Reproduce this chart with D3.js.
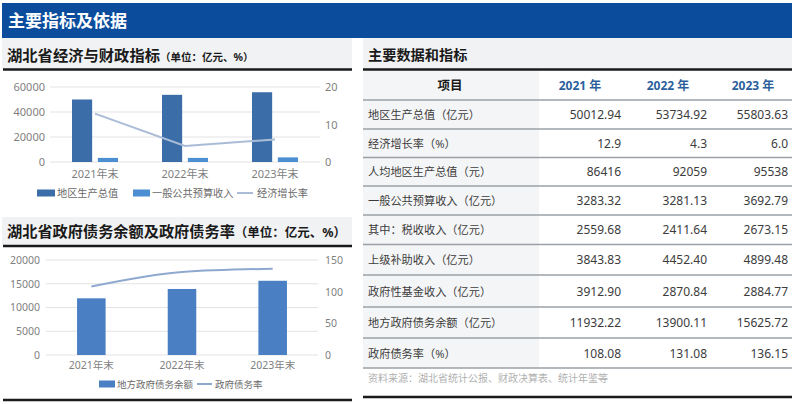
<!DOCTYPE html>
<html><head><meta charset="utf-8">
<script src="https://cdn.jsdelivr.net/npm/d3@7/dist/d3.min.js"></script>
<style>
html,body{margin:0;padding:0;background:#fff;}
svg{display:block;font-family:"Noto Sans","Noto Sans CJK SC",sans-serif;}
</style></head>
<body>
<svg id="c" width="800" height="404"></svg>
<script>
// ---------- data ----------
const categories = ["2021年末", "2022年末", "2023年末"];
const gdp = [50012.94, 53734.92, 55803.63];
const budgetRevenue = [3283.32, 3281.13, 3692.79];
const growthRate = [12.9, 4.3, 6.0];
const debtBalance = [11932.22, 13900.11, 15625.72];
const debtRatio = [108.08, 131.08, 136.15];
const ticksLeft1 = [0, 20000, 40000, 60000];
const ticksRight1 = [0, 10, 20];
const ticksLeft2 = [0, 5000, 10000, 15000, 20000];
const ticksRight2 = [0, 50, 100, 150];
const legend1 = ["地区生产总值", "一般公共预算收入", "经济增长率"];
const legend2 = ["地方政府债务余额", "政府债务率"];
const tableYears = ["2021 年", "2022 年", "2023 年"];
const tableLabels = ["地区生产总值（亿元）", "经济增长率（%）", "人均地区生产总值（元）", "一般公共预算收入（亿元）", "其中：税收收入（亿元）", "上级补助收入（亿元）", "政府性基金收入（亿元）", "地方政府债务余额（亿元）", "政府债务率（%）"];
const table2021 = ["50012.94", "12.9", "86416", "3283.32", "2559.68", "3843.83", "3912.90", "11932.22", "108.08"];
const table2022 = ["53734.92", "4.3", "92059", "3281.13", "2411.64", "4452.40", "2870.84", "13900.11", "131.08"];
const table2023 = ["55803.63", "6.0", "95538", "3692.79", "2673.15", "4899.48", "2884.77", "15625.72", "136.15"];

// ---------- frame ----------
const svg = d3.select("#c");
const BLUE_HDR = "#0b4c9c", BAND = "#f1f2f4";
svg.append("rect").attr("x",2).attr("y",3).attr("width",790).attr("height",35).attr("fill",BLUE_HDR);
svg.append("text").attr("x",8).attr("y",27).attr("fill","#fff").attr("font-size",17).attr("font-weight","bold").text("主要指标及依据");

svg.append("rect").attr("x",2).attr("y",38).attr("width",350).attr("height",31).attr("fill",BAND);
svg.append("rect").attr("x",363).attr("y",38).attr("width",429).attr("height",31).attr("fill",BAND);
svg.append("rect").attr("x",2).attr("y",217).attr("width",350).attr("height",29).attr("fill",BAND);

const t1 = svg.append("text").attr("x",7).attr("y",61).attr("fill","#1a1a1a").attr("font-weight","bold");
t1.append("tspan").attr("font-size",15.3).text("湖北省经济与财政指标");
t1.append("tspan").attr("font-size",10.5).text("（单位：亿元、%）");
const t2 = svg.append("text").attr("x",7).attr("y",237).attr("fill","#1a1a1a").attr("font-weight","bold");
t2.append("tspan").attr("font-size",15.2).text("湖北省政府债务余额及政府债务率");
t2.append("tspan").attr("font-size",12.5).text("（单位：亿元、%）");
svg.append("text").attr("x",368).attr("y",60).attr("fill","#1a1a1a").attr("font-size",14.2).attr("font-weight","bold").text("主要数据和指标");

function hline(x1,x2,y,w,c){svg.append("line").attr("x1",x1).attr("x2",x2).attr("y1",y).attr("y2",y).attr("stroke",c).attr("stroke-width",w);}
hline(3,352,69.5,2.5,"#1a1a1a");
hline(3,352,246,2.5,"#1a1a1a");
hline(3,352,400,2.5,"#1a1a1a");

// ---------- chart 1 ----------
const TICK = "#7f7f7f", GRID = "#e3e3e3";
const FONT = '"Noto Sans","Noto Sans CJK SC",sans-serif';
const x1 = d3.scaleBand().domain(categories).range([50,320]).padding(0);
const sub1 = d3.scaleBand().domain(["gdp","rev"]).range([-23,23]).paddingInner(0.22);
const y1 = d3.scaleLinear().domain([0,60000]).range([162,87]);
const y1r = d3.scaleLinear().domain([0,20]).range([162,87]);
const g1 = svg.append("g");
g1.append("g").selectAll("line").data(ticksLeft1).join("line")
  .attr("x1",50).attr("x2",320).attr("y1",d=>y1(d)).attr("y2",d=>y1(d)).attr("stroke",GRID).attr("stroke-width",1);
const axL1 = g1.append("g").attr("transform","translate(50,0)").call(d3.axisLeft(y1).tickValues(ticksLeft1).tickSize(0).tickPadding(5).tickFormat(d3.format("d")));
const axR1 = g1.append("g").attr("transform","translate(320,0)").call(d3.axisRight(y1r).tickValues(ticksRight1).tickSize(0).tickPadding(5));
const axB1 = g1.append("g").attr("transform","translate(0,162)").call(d3.axisBottom(x1).tickSize(0).tickPadding(8));
[axL1,axR1,axB1].forEach(a=>{a.select(".domain").remove();a.selectAll("text").attr("fill",TICK).attr("font-size",11).attr("font-family",FONT);});
const C_GDP = "#3b6ea8", C_REV = "#4b8fd2", C_GROW = "#aabcd6";
const cx1 = c => x1(c) + x1.bandwidth()/2;
g1.selectAll("rect.gdp").data(categories).join("rect").attr("class","gdp")
  .attr("x",(c)=>cx1(c)+sub1("gdp")).attr("width",sub1.bandwidth())
  .attr("y",(c,i)=>y1(gdp[i])).attr("height",(c,i)=>y1(0)-y1(gdp[i])).attr("fill",C_GDP);
g1.selectAll("rect.rev").data(categories).join("rect").attr("class","rev")
  .attr("x",(c)=>cx1(c)+sub1("rev")).attr("width",sub1.bandwidth())
  .attr("y",(c,i)=>y1(budgetRevenue[i])).attr("height",(c,i)=>y1(0)-y1(budgetRevenue[i])).attr("fill",C_REV);
g1.append("path").datum(categories).attr("fill","none").attr("stroke",C_GROW).attr("stroke-width",2)
  .attr("d",d3.line().x(c=>cx1(c)).y((c,i)=>y1r(growthRate[i])));
// legend 1
const lg1 = g1.append("g").attr("transform","translate(0,193)");
const lg1x = [37,133,237];
lg1.append("rect").attr("x",lg1x[0]).attr("y",-3.5).attr("width",18).attr("height",7).attr("fill",C_GDP);
lg1.append("rect").attr("x",lg1x[1]).attr("y",-3.5).attr("width",17).attr("height",7).attr("fill",C_REV);
lg1.append("line").attr("x1",lg1x[2]).attr("x2",lg1x[2]+16).attr("y1",0).attr("y2",0).attr("stroke",C_GROW).attr("stroke-width",2);
legend1.forEach((t,i)=>lg1.append("text").attr("x",lg1x[i]+(i==1?19:20)).attr("y",4).attr("fill","#6a6a6a").attr("font-size",10.2).text(t));

// ---------- chart 2 ----------
const x2 = d3.scaleBand().domain(categories).range([46,318]).padding(0);
const y2 = d3.scaleLinear().domain([0,20000]).range([355,260]);
const y2r = d3.scaleLinear().domain([0,150]).range([355,260]);
const g2 = svg.append("g");
g2.append("g").selectAll("line").data(ticksLeft2).join("line")
  .attr("x1",46).attr("x2",318).attr("y1",d=>y2(d)).attr("y2",d=>y2(d)).attr("stroke",GRID).attr("stroke-width",1);
const axL2 = g2.append("g").attr("transform","translate(46,0)").call(d3.axisLeft(y2).tickValues(ticksLeft2).tickSize(0).tickPadding(6).tickFormat(d3.format("d")));
const axR2 = g2.append("g").attr("transform","translate(318,0)").call(d3.axisRight(y2r).tickValues(ticksRight2).tickSize(0).tickPadding(7));
const axB2 = g2.append("g").attr("transform","translate(0,355)").call(d3.axisBottom(x2).tickSize(0).tickPadding(7));
[axL2,axR2,axB2].forEach(a=>{a.select(".domain").remove();a.selectAll("text").attr("fill",TICK).attr("font-size",10.5).attr("font-family",FONT);});
const C_DEBT = "#4a80c3", C_RATIO = "#8fa8cf";
const cx2 = c => x2(c) + x2.bandwidth()/2;
const bw2 = x2.bandwidth()*0.315;
g2.selectAll("rect.debt").data(categories).join("rect").attr("class","debt")
  .attr("x",c=>cx2(c)-bw2/2).attr("width",bw2)
  .attr("y",(c,i)=>y2(debtBalance[i])).attr("height",(c,i)=>y2(0)-y2(debtBalance[i])).attr("fill",C_DEBT);
g2.append("path").datum(categories).attr("fill","none").attr("stroke",C_RATIO).attr("stroke-width",2)
  .attr("d",d3.line().curve(d3.curveMonotoneX).x(c=>cx2(c)).y((c,i)=>y2r(debtRatio[i])));
const lg2 = g2.append("g").attr("transform","translate(0,384)");
lg2.append("rect").attr("x",99).attr("y",-3.5).attr("width",16).attr("height",7).attr("fill",C_DEBT);
lg2.append("line").attr("x1",197).attr("x2",212).attr("y1",0).attr("y2",0).attr("stroke",C_RATIO).attr("stroke-width",2);
lg2.append("text").attr("x",117).attr("y",3.5).attr("fill","#6a6a6a").attr("font-size",9.5).text(legend2[0]);
lg2.append("text").attr("x",215).attr("y",3.5).attr("fill","#6a6a6a").attr("font-size",9.5).text(legend2[1]);

// ---------- table ----------
const tg = svg.append("g");
const rowLines = [100,129,157.5,186,215,244.5,275,307,338,368];
tg.append("rect").attr("x",363).attr("y",70).attr("width",176).attr("height",298).attr("fill","#f4f5f6");
hline(363,792,69.5,2.5,"#1a1a1a");
rowLines.forEach(y=>hline(363,792,y,1.5,"#9aa0a6"));
hline(363,792,397,2.5,"#1a1a1a");
const valRight = [621,707,788];
const yearCenter = [580,668,753];
tg.append("text").attr("x",450).attr("y",89.5).attr("text-anchor","middle").attr("font-size",12.5).attr("font-weight","bold").attr("fill","#1a1a1a").text("项目");
tableYears.forEach((t,i)=>tg.append("text").attr("x",yearCenter[i]).attr("y",89.5).attr("text-anchor","middle")
  .attr("font-size",12).attr("font-weight","bold").attr("fill","#2b5f9c").text(t));
const cols = [table2021, table2022, table2023];
tableLabels.forEach((lab,i)=>{
  const top = i===0?100:rowLines[i], bot = rowLines[i+1];
  const yc = (top+bot)/2 + 4.5;
  tg.append("text").attr("x",368).attr("y",yc).attr("font-size",11.2).attr("fill","#3c3c3c").text(lab);
  cols.forEach((col,j)=>tg.append("text").attr("x",valRight[j]).attr("y",yc).attr("text-anchor","end")
    .attr("font-size",12).attr("fill","#3c3c3c").text(col[i]));
});
tg.append("text").attr("x",368).attr("y",382).attr("font-size",10).attr("fill","#b0b0b0").text("资料来源：湖北省统计公报、财政决算表、统计年鉴等");
</script>
</body></html>
